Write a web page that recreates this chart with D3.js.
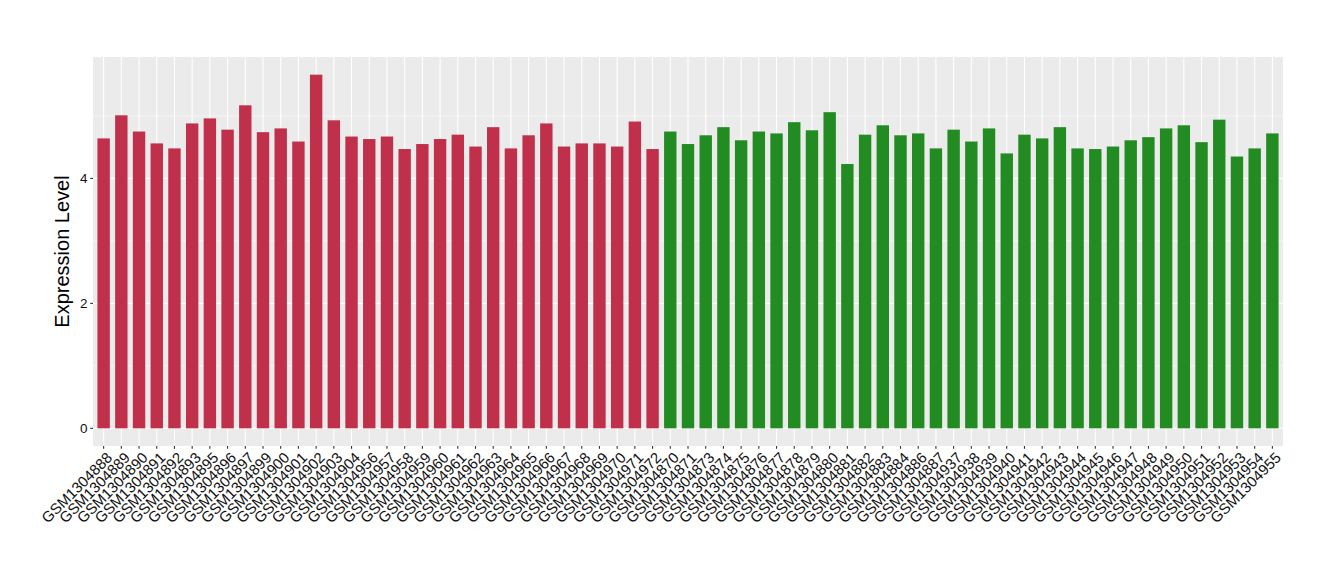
<!DOCTYPE html>
<html><head><meta charset="utf-8">
<script src="https://cdn.jsdelivr.net/npm/d3@7"></script>
<style>body{margin:0;background:#fff}</style></head>
<body><svg id="c" width="1340" height="580"></svg>
<script>
const samples = ["GSM1304888","GSM1304889","GSM1304890","GSM1304891","GSM1304892","GSM1304893","GSM1304895","GSM1304896","GSM1304897","GSM1304899","GSM1304900","GSM1304901","GSM1304902","GSM1304903","GSM1304904","GSM1304956","GSM1304957","GSM1304958","GSM1304959","GSM1304960","GSM1304961","GSM1304962","GSM1304963","GSM1304964","GSM1304965","GSM1304966","GSM1304967","GSM1304968","GSM1304969","GSM1304970","GSM1304971","GSM1304972",
"GSM1304870","GSM1304871","GSM1304873","GSM1304874","GSM1304875","GSM1304876","GSM1304877","GSM1304878","GSM1304879","GSM1304880","GSM1304881","GSM1304882","GSM1304883","GSM1304884","GSM1304886","GSM1304887","GSM1304937","GSM1304938","GSM1304939","GSM1304940","GSM1304941","GSM1304942","GSM1304943","GSM1304944","GSM1304945","GSM1304946","GSM1304947","GSM1304948","GSM1304949","GSM1304950","GSM1304951","GSM1304952","GSM1304953","GSM1304954","GSM1304955"];
const values = [4.64,5.01,4.75,4.56,4.48,4.88,4.96,4.78,5.17,4.74,4.80,4.59,5.66,4.93,4.67,4.63,4.67,4.47,4.55,4.63,4.70,4.51,4.82,4.48,4.69,4.88,4.51,4.56,4.56,4.51,4.91,4.47,
4.75,4.55,4.69,4.82,4.61,4.75,4.72,4.90,4.77,5.06,4.23,4.70,4.85,4.69,4.72,4.48,4.78,4.59,4.80,4.40,4.70,4.64,4.82,4.48,4.47,4.51,4.61,4.66,4.80,4.85,4.58,4.94,4.35,4.48,4.72];
const groups = samples.map((s,i)=> i<32 ? "A" : "B");
const groupColors = {A:"#C1304A", B:"#228B22"};
const yTicks = [0,2,4];
const yMinor = [1,3,5];
const yTitle = "Expression Level";

const svg = d3.select("#c");
const L=93, R=1283, T=57, B=446;
const FONT = "Liberation Sans, Arial, Helvetica, sans-serif";
const x = d3.scaleBand().domain(samples).range([L,R]).paddingInner(0.3).paddingOuter(0.25);
const vmax = d3.max(values);
const y = d3.scaleLinear().domain([-0.05*vmax, vmax*1.05]).range([B,T]);

svg.append("rect").attr("x",L).attr("y",T).attr("width",R-L).attr("height",B-T).attr("fill","#EBEBEB");
const g = svg.append("g");
g.selectAll(".ymin").data(yMinor).join("line").attr("x1",L).attr("x2",R)
 .attr("y1",d=>y(d)).attr("y2",d=>y(d)).attr("stroke","#fff").attr("stroke-width",0.55);
g.selectAll(".ymaj").data(yTicks).join("line").attr("x1",L).attr("x2",R)
 .attr("y1",d=>y(d)).attr("y2",d=>y(d)).attr("stroke","#fff").attr("stroke-width",1.1);
g.selectAll(".xmaj").data(samples).join("line").attr("y1",T).attr("y2",B)
 .attr("x1",d=>x(d)+x.bandwidth()/2).attr("x2",d=>x(d)+x.bandwidth()/2).attr("stroke","#fff").attr("stroke-width",1.1);

svg.selectAll(".bar").data(samples).join("rect")
 .attr("x",d=>x(d)).attr("width",x.bandwidth())
 .attr("y",(d,i)=>y(values[i])).attr("height",(d,i)=>y(0)-y(values[i]))
 .attr("fill",(d,i)=>groupColors[groups[i]]);

// y axis
const ya = svg.append("g");
ya.selectAll("line").data(yTicks).join("line").attr("x1",L-2.8).attr("x2",L)
 .attr("y1",d=>y(d)).attr("y2",d=>y(d)).attr("stroke","#333").attr("stroke-width",1.1);
ya.selectAll("text").data(yTicks).join("text").attr("x",L-5.5).attr("y",d=>y(d))
 .attr("dy","0.36em").attr("text-anchor","end").attr("font-family",FONT)
 .attr("font-size",13.5).attr("fill","#111").text(d=>d);

// x axis
const xa = svg.append("g");
xa.selectAll("line").data(samples).join("line").attr("y1",B).attr("y2",B+2.8)
 .attr("x1",d=>x(d)+x.bandwidth()/2).attr("x2",d=>x(d)+x.bandwidth()/2).attr("stroke","#333").attr("stroke-width",1.1);
xa.selectAll("text").data(samples).join("text")
 .attr("transform",d=>`translate(${x(d)+x.bandwidth()/2+2},${B+5}) rotate(-45)`)
 .attr("text-anchor","end").attr("dy","0.72em").attr("font-family",FONT)
 .attr("font-size",15).attr("fill","#111").text(d=>d);

svg.append("text").attr("transform",`translate(69,${(T+B)/2}) rotate(-90)`)
 .attr("text-anchor","middle").attr("font-family",FONT)
 .attr("font-size",20).attr("fill","#000").text(yTitle);
</script></body></html>
